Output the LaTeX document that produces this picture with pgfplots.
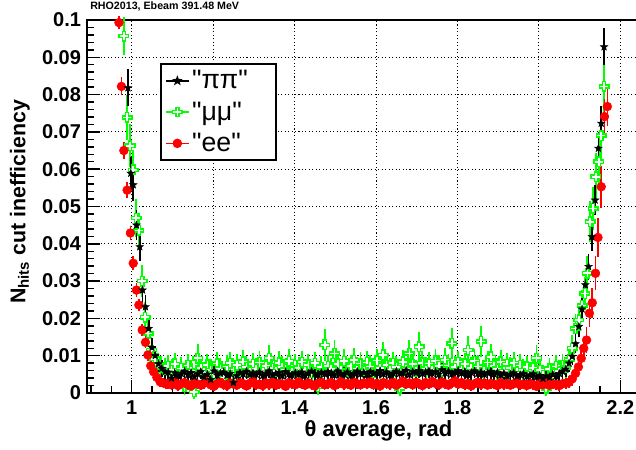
\documentclass[border=0pt]{standalone}
\usepackage{pgfplots}
\pgfplotsset{compat=1.18}
\usepackage{pgfplotstable}
\usepackage{fontspec}
\setmainfont{Liberation Sans}
\newfontfamily\legfont{Liberation Sans}[Ligatures=TeXOff]
\usetikzlibrary{calc}

\definecolor{rootgreen}{RGB}{0,255,0}
\definecolor{rootred}{RGB}{255,0,0}

% filled five-pointed star
\pgfdeclareplotmark{fstar}{%
  \pgfpathmoveto{\pgfpointpolar{90}{\pgfplotmarksize}}%
  \pgfpathlineto{\pgfpointpolar{126}{0.42\pgfplotmarksize}}%
  \pgfpathlineto{\pgfpointpolar{162}{\pgfplotmarksize}}%
  \pgfpathlineto{\pgfpointpolar{198}{0.42\pgfplotmarksize}}%
  \pgfpathlineto{\pgfpointpolar{234}{\pgfplotmarksize}}%
  \pgfpathlineto{\pgfpointpolar{270}{0.42\pgfplotmarksize}}%
  \pgfpathlineto{\pgfpointpolar{306}{\pgfplotmarksize}}%
  \pgfpathlineto{\pgfpointpolar{342}{0.42\pgfplotmarksize}}%
  \pgfpathlineto{\pgfpointpolar{18}{\pgfplotmarksize}}%
  \pgfpathlineto{\pgfpointpolar{54}{0.42\pgfplotmarksize}}%
  \pgfpathclose
  \pgfusepathqfillstroke}

% open cross (outlined plus sign)
\pgfdeclareplotmark{ocross}{%
  \pgfpathmoveto{\pgfpoint{-0.33\pgfplotmarksize}{\pgfplotmarksize}}%
  \pgfpathlineto{\pgfpoint{0.33\pgfplotmarksize}{\pgfplotmarksize}}%
  \pgfpathlineto{\pgfpoint{0.33\pgfplotmarksize}{0.33\pgfplotmarksize}}%
  \pgfpathlineto{\pgfpoint{\pgfplotmarksize}{0.33\pgfplotmarksize}}%
  \pgfpathlineto{\pgfpoint{\pgfplotmarksize}{-0.33\pgfplotmarksize}}%
  \pgfpathlineto{\pgfpoint{0.33\pgfplotmarksize}{-0.33\pgfplotmarksize}}%
  \pgfpathlineto{\pgfpoint{0.33\pgfplotmarksize}{-\pgfplotmarksize}}%
  \pgfpathlineto{\pgfpoint{-0.33\pgfplotmarksize}{-\pgfplotmarksize}}%
  \pgfpathlineto{\pgfpoint{-0.33\pgfplotmarksize}{-0.33\pgfplotmarksize}}%
  \pgfpathlineto{\pgfpoint{-\pgfplotmarksize}{-0.33\pgfplotmarksize}}%
  \pgfpathlineto{\pgfpoint{-\pgfplotmarksize}{0.33\pgfplotmarksize}}%
  \pgfpathlineto{\pgfpoint{-0.33\pgfplotmarksize}{0.33\pgfplotmarksize}}%
  \pgfpathclose
  \pgfusepathqfillstroke}

% pi pi sample
\pgfplotstableread{
x y e
0.991 0.0818 0.0042
0.998 0.0589 0.0036
1.004 0.0558 0.0035
1.012 0.0450 0.0032
1.020 0.0392 0.0030
1.027 0.0276 0.0026
1.034 0.0231 0.0024
1.042 0.0173 0.0021
1.050 0.0122 0.0019
1.058 0.0100 0.0017
1.066 0.0078 0.0015
1.074 0.0066 0.0014
1.082 0.0057 0.0013
1.090 0.0056 0.0012
1.098 0.0040 0.0012
1.106 0.0054 0.0012
1.114 0.0046 0.0012
1.122 0.0052 0.0012
1.130 0.0058 0.0012
1.138 0.0049 0.0012
1.146 0.0055 0.0012
1.154 0.0044 0.0012
1.162 0.0051 0.0012
1.170 0.0057 0.0012
1.178 0.0043 0.0012
1.186 0.0050 0.0012
1.194 0.0036 0.0012
1.202 0.0059 0.0012
1.210 0.0048 0.0012
1.218 0.0053 0.0012
1.226 0.0056 0.0012
1.234 0.0047 0.0012
1.242 0.0052 0.0012
1.250 0.0028 0.0011
1.258 0.0046 0.0012
1.266 0.0055 0.0012
1.274 0.0051 0.0012
1.282 0.0058 0.0012
1.290 0.0049 0.0012
1.298 0.0054 0.0012
1.306 0.0050 0.0012
1.314 0.0056 0.0012
1.322 0.0047 0.0012
1.330 0.0053 0.0012
1.338 0.0059 0.0012
1.346 0.0048 0.0012
1.354 0.0052 0.0012
1.362 0.0055 0.0012
1.370 0.0046 0.0012
1.378 0.0057 0.0012
1.386 0.0051 0.0012
1.394 0.0049 0.0012
1.402 0.0054 0.0012
1.410 0.0050 0.0012
1.418 0.0056 0.0012
1.426 0.0047 0.0012
1.434 0.0053 0.0012
1.442 0.0058 0.0012
1.450 0.0052 0.0012
1.458 0.0049 0.0012
1.466 0.0055 0.0012
1.474 0.0051 0.0012
1.482 0.0057 0.0012
1.490 0.0054 0.0012
1.498 0.0048 0.0012
1.506 0.0059 0.0012
1.514 0.0052 0.0012
1.522 0.0050 0.0012
1.530 0.0056 0.0012
1.538 0.0047 0.0012
1.546 0.0053 0.0012
1.554 0.0058 0.0012
1.562 0.0051 0.0012
1.570 0.0055 0.0012
1.578 0.0049 0.0012
1.586 0.0057 0.0012
1.594 0.0052 0.0012
1.602 0.0054 0.0012
1.610 0.0060 0.0012
1.618 0.0051 0.0012
1.626 0.0056 0.0012
1.634 0.0048 0.0012
1.642 0.0053 0.0012
1.650 0.0058 0.0012
1.658 0.0052 0.0012
1.666 0.0055 0.0012
1.674 0.0061 0.0012
1.682 0.0049 0.0012
1.690 0.0057 0.0012
1.698 0.0054 0.0012
1.706 0.0060 0.0012
1.714 0.0052 0.0012
1.722 0.0056 0.0012
1.730 0.0059 0.0012
1.738 0.0053 0.0012
1.746 0.0057 0.0012
1.754 0.0050 0.0012
1.762 0.0062 0.0012
1.770 0.0054 0.0012
1.778 0.0058 0.0012
1.786 0.0051 0.0012
1.794 0.0056 0.0012
1.802 0.0060 0.0012
1.810 0.0053 0.0012
1.818 0.0057 0.0012
1.826 0.0049 0.0012
1.834 0.0055 0.0012
1.842 0.0059 0.0012
1.850 0.0052 0.0012
1.858 0.0056 0.0012
1.866 0.0050 0.0012
1.874 0.0054 0.0012
1.882 0.0058 0.0012
1.890 0.0051 0.0012
1.898 0.0055 0.0012
1.906 0.0048 0.0012
1.914 0.0053 0.0012
1.922 0.0046 0.0012
1.930 0.0050 0.0012
1.938 0.0054 0.0012
1.946 0.0045 0.0012
1.954 0.0049 0.0012
1.962 0.0052 0.0012
1.970 0.0044 0.0012
1.978 0.0048 0.0012
1.986 0.0051 0.0012
1.994 0.0043 0.0012
2.002 0.0047 0.0012
2.010 0.0039 0.0011
2.018 0.0046 0.0012
2.026 0.0042 0.0012
2.034 0.0050 0.0012
2.042 0.0045 0.0012
2.050 0.0052 0.0012
2.058 0.0058 0.0013
2.066 0.0064 0.0014
2.074 0.0080 0.0015
2.082 0.0098 0.0016
2.090 0.0132 0.0018
2.098 0.0178 0.0020
2.106 0.0225 0.0022
2.114 0.0290 0.0025
2.122 0.0339 0.0027
2.130 0.0419 0.0030
2.138 0.0517 0.0033
2.146 0.0656 0.0037
2.153 0.0723 0.0039
2.160 0.0928 0.0042
}\pipi

% mu mu sample
\pgfplotstableread{
x y e
0.981 0.0957 0.0043
0.989 0.0739 0.0052
0.996 0.0663 0.0049
1.004 0.0598 0.0046
1.011 0.0469 0.0042
1.018 0.0436 0.0040
1.026 0.0300 0.0036
1.033 0.0203 0.0032
1.041 0.0160 0.0030
1.049 0.0115 0.0027
1.057 0.0092 0.0025
1.065 0.0076 0.0023
1.073 0.0069 0.0022
1.081 0.0064 0.0022
1.090 0.0072 0.0022
1.098 0.0061 0.0022
1.106 0.0078 0.0022
1.114 0.0054 0.0021
1.122 0.0066 0.0022
1.130 0.0017 0.0015
1.138 0.0074 0.0022
1.146 0.0060 0.0022
1.154 0.0003 0.0012
1.162 0.0093 0.0030
1.170 0.0068 0.0022
1.178 0.0055 0.0021
1.186 0.0076 0.0022
1.194 0.0062 0.0022
1.202 0.0050 0.0021
1.210 0.0079 0.0022
1.218 0.0065 0.0022
1.226 0.0042 0.0019
1.234 0.0071 0.0022
1.242 0.0080 0.0023
1.250 0.0063 0.0022
1.258 0.0075 0.0022
1.266 0.0058 0.0021
1.274 0.0084 0.0024
1.282 0.0069 0.0022
1.290 0.0056 0.0021
1.298 0.0077 0.0022
1.306 0.0064 0.0022
1.314 0.0082 0.0023
1.322 0.0060 0.0022
1.330 0.0073 0.0022
1.338 0.0093 0.0028
1.346 0.0067 0.0022
1.354 0.0059 0.0021
1.362 0.0081 0.0023
1.370 0.0070 0.0022
1.378 0.0063 0.0022
1.386 0.0086 0.0024
1.394 0.0057 0.0021
1.402 0.0074 0.0022
1.410 0.0068 0.0022
1.418 0.0083 0.0023
1.426 0.0061 0.0022
1.434 0.0076 0.0022
1.442 0.0055 0.0021
1.450 0.0080 0.0023
1.458 0.0017 0.0015
1.466 0.0069 0.0022
1.474 0.0129 0.0035
1.482 0.0072 0.0022
1.490 0.0064 0.0022
1.498 0.0106 0.0028
1.506 0.0078 0.0022
1.514 0.0062 0.0022
1.522 0.0085 0.0024
1.530 0.0058 0.0021
1.538 0.0073 0.0022
1.546 0.0088 0.0025
1.554 0.0066 0.0022
1.562 0.0079 0.0022
1.570 0.0060 0.0022
1.578 0.0082 0.0023
1.586 0.0071 0.0022
1.594 0.0054 0.0021
1.602 0.0087 0.0024
1.610 0.0068 0.0022
1.618 0.0102 0.0028
1.626 0.0075 0.0022
1.634 0.0063 0.0022
1.642 0.0080 0.0023
1.650 0.0070 0.0022
1.658 0.0013 0.0013
1.666 0.0084 0.0024
1.674 0.0065 0.0022
1.682 0.0106 0.0028
1.690 0.0077 0.0022
1.698 0.0059 0.0021
1.706 0.0124 0.0032
1.714 0.0081 0.0023
1.722 0.0066 0.0022
1.730 0.0079 0.0022
1.738 0.0062 0.0022
1.746 0.0086 0.0024
1.754 0.0072 0.0022
1.762 0.0058 0.0021
1.770 0.0088 0.0025
1.778 0.0074 0.0022
1.786 0.0133 0.0033
1.794 0.0069 0.0022
1.802 0.0083 0.0023
1.810 0.0064 0.0022
1.818 0.0078 0.0022
1.826 0.0115 0.0030
1.834 0.0068 0.0022
1.842 0.0085 0.0024
1.850 0.0071 0.0022
1.858 0.0138 0.0034
1.866 0.0060 0.0022
1.874 0.0082 0.0023
1.882 0.0097 0.0027
1.890 0.0073 0.0022
1.898 0.0065 0.0022
1.906 0.0084 0.0024
1.914 0.0059 0.0021
1.922 0.0077 0.0022
1.930 0.0068 0.0022
1.938 0.0080 0.0023
1.946 0.0056 0.0021
1.954 0.0074 0.0022
1.962 0.0062 0.0022
1.970 0.0070 0.0022
1.978 0.0055 0.0021
1.986 0.0068 0.0022
1.994 0.0093 0.0028
2.002 0.0061 0.0022
2.010 0.0048 0.0020
2.018 0.0013 0.0013
2.026 0.0065 0.0022
2.034 0.0052 0.0021
2.042 0.0071 0.0022
2.050 0.0060 0.0022
2.058 0.0074 0.0022
2.066 0.0068 0.0022
2.074 0.0090 0.0025
2.082 0.0120 0.0028
2.090 0.0173 0.0031
2.098 0.0196 0.0032
2.106 0.0235 0.0034
2.113 0.0267 0.0036
2.119 0.0321 0.0039
2.126 0.0459 0.0047
2.133 0.0495 0.0050
2.140 0.0580 0.0055
2.147 0.0620 0.0057
2.153 0.0690 0.0061
2.160 0.0822 0.0069
}\mumu

% e e sample
\pgfplotstableread{
x y e
0.969 0.0993 0.0010
0.975 0.0822 0.0016
0.981 0.0650 0.0015
0.989 0.0544 0.0014
0.997 0.0429 0.0012
1.004 0.0348 0.0011
1.012 0.0276 0.0010
1.018 0.0236 0.0009
1.026 0.0169 0.0008
1.034 0.0136 0.0008
1.040 0.0102 0.0007
1.047 0.0073 0.0007
1.054 0.0057 0.0006
1.062 0.0042 0.0006
1.070 0.0030 0.0006
1.078 0.0027 0.0006
1.084 0.0025 0.0006
1.090 0.0026 0.0006
1.098 0.0022 0.0006
1.106 0.0029 0.0006
1.114 0.0020 0.0006
1.122 0.0025 0.0006
1.130 0.0028 0.0006
1.138 0.0023 0.0006
1.146 0.0019 0.0006
1.154 0.0027 0.0006
1.162 0.0024 0.0006
1.170 0.0021 0.0006
1.178 0.0026 0.0006
1.186 0.0030 0.0006
1.194 0.0022 0.0006
1.202 0.0018 0.0006
1.210 0.0025 0.0006
1.218 0.0029 0.0006
1.226 0.0023 0.0006
1.234 0.0020 0.0006
1.242 0.0027 0.0006
1.250 0.0024 0.0006
1.258 0.0021 0.0006
1.266 0.0028 0.0006
1.274 0.0025 0.0006
1.282 0.0019 0.0006
1.290 0.0026 0.0006
1.298 0.0031 0.0006
1.306 0.0022 0.0006
1.314 0.0024 0.0006
1.322 0.0020 0.0006
1.330 0.0027 0.0006
1.338 0.0023 0.0006
1.346 0.0029 0.0006
1.354 0.0021 0.0006
1.362 0.0026 0.0006
1.370 0.0024 0.0006
1.378 0.0018 0.0006
1.386 0.0028 0.0006
1.394 0.0025 0.0006
1.402 0.0022 0.0006
1.410 0.0030 0.0006
1.418 0.0024 0.0006
1.426 0.0021 0.0006
1.434 0.0027 0.0006
1.442 0.0023 0.0006
1.450 0.0019 0.0006
1.458 0.0026 0.0006
1.466 0.0029 0.0006
1.474 0.0022 0.0006
1.482 0.0025 0.0006
1.490 0.0028 0.0006
1.498 0.0020 0.0006
1.506 0.0024 0.0006
1.514 0.0031 0.0006
1.522 0.0023 0.0006
1.530 0.0026 0.0006
1.538 0.0021 0.0006
1.546 0.0029 0.0006
1.554 0.0025 0.0006
1.562 0.0022 0.0006
1.570 0.0027 0.0006
1.578 0.0024 0.0006
1.586 0.0030 0.0006
1.594 0.0022 0.0006
1.602 0.0026 0.0006
1.610 0.0019 0.0006
1.618 0.0028 0.0006
1.626 0.0025 0.0006
1.634 0.0023 0.0006
1.642 0.0029 0.0006
1.650 0.0021 0.0006
1.658 0.0026 0.0006
1.666 0.0032 0.0006
1.674 0.0024 0.0006
1.682 0.0027 0.0006
1.690 0.0022 0.0006
1.698 0.0029 0.0006
1.706 0.0025 0.0006
1.714 0.0020 0.0006
1.722 0.0028 0.0006
1.730 0.0024 0.0006
1.738 0.0031 0.0006
1.746 0.0026 0.0006
1.754 0.0022 0.0006
1.762 0.0029 0.0006
1.770 0.0025 0.0006
1.778 0.0021 0.0006
1.786 0.0027 0.0006
1.794 0.0033 0.0006
1.802 0.0024 0.0006
1.810 0.0028 0.0006
1.818 0.0022 0.0006
1.826 0.0026 0.0006
1.834 0.0019 0.0006
1.842 0.0025 0.0006
1.850 0.0029 0.0006
1.858 0.0023 0.0006
1.866 0.0027 0.0006
1.874 0.0021 0.0006
1.882 0.0026 0.0006
1.890 0.0024 0.0006
1.898 0.0020 0.0006
1.906 0.0028 0.0006
1.914 0.0023 0.0006
1.922 0.0026 0.0006
1.930 0.0021 0.0006
1.938 0.0025 0.0006
1.946 0.0029 0.0006
1.954 0.0022 0.0006
1.962 0.0024 0.0006
1.970 0.0020 0.0006
1.978 0.0026 0.0006
1.986 0.0023 0.0006
1.994 0.0018 0.0006
2.002 0.0025 0.0006
2.010 0.0022 0.0006
2.018 0.0027 0.0006
2.026 0.0021 0.0006
2.034 0.0024 0.0006
2.042 0.0023 0.0006
2.050 0.0020 0.0006
2.058 0.0025 0.0006
2.066 0.0026 0.0007
2.074 0.0029 0.0008
2.082 0.0038 0.0010
2.090 0.0053 0.0013
2.097 0.0070 0.0016
2.104 0.0093 0.0020
2.110 0.0120 0.0023
2.117 0.0142 0.0026
2.124 0.0214 0.0030
2.131 0.0242 0.0032
2.139 0.0321 0.0038
2.145 0.0417 0.0044
2.153 0.0553 0.0048
2.161 0.0741 0.0040
2.168 0.0768 0.0045
}\ee

\begin{document}
\begin{tikzpicture}
\begin{axis}[
  name=ax,
  scale only axis,
  width=412.5pt, height=279.75pt,
  xmin=0.8905, xmax=2.241,
  ymin=0, ymax=0.1,
  clip=false,
  axis line style={line width=1.5pt},
  xtick={1,1.2,1.4,1.6,1.8,2,2.2},
  xticklabels={1,1.2,1.4,1.6,1.8,2,2.2},
  ytick={0,0.01,0.02,0.03,0.04,0.05,0.06,0.07,0.08,0.09,0.1},
  yticklabels={0,0.01,0.02,0.03,0.04,0.05,0.06,0.07,0.08,0.09,0.1},
  minor xtick={0.9,0.95,1.05,1.1,1.15,1.25,1.3,1.35,1.45,1.5,1.55,1.65,1.7,1.75,1.85,1.9,1.95,2.05,2.1,2.15,2.25},
  minor ytick={0.002,0.004,...,0.1},
  xtick pos=left, ytick pos=left,
  tick align=inside,
  major tick length=10pt, minor tick length=5pt,
  every tick/.style={black, line width=1.1pt},
  grid=major,
  major grid style={black, line width=0.7pt, dash pattern=on 0.8pt off 1.8pt},
  /pgf/number format/assume math mode=true,
  xticklabel style={font=\fontsize{15}{15}\selectfont\bfseries, yshift=-2pt},
  yticklabel style={font=\fontsize{15}{15}\selectfont\bfseries, xshift=-1pt},
  xlabel={θ average, rad},
  ylabel={N\textsubscript{hits} cut inefficiency},
  xlabel style={font=\fontsize{16.5}{17}\selectfont\bfseries, at={(axis description cs:0.530,-0.102)}, anchor=center},
  ylabel style={font=\fontsize{16}{17}\selectfont\bfseries, at={(axis description cs:-0.122,0.512)}, anchor=center},
  legend cell align=left,
  legend style={at={(axis description cs:0.133,0.885)}, anchor=north west,
    draw=black, line width=1.6pt, fill=white,
    font=\legfont\fontsize{20}{22}\selectfont, inner sep=3pt, row sep=4.2pt,
    /tikz/every even column/.append style={column sep=2pt}},
  error bars/y dir=both,
  error bars/y explicit,
]
\addlegendimage{black, line width=1.1pt, mark=fstar, mark size=2.6pt, mark options={solid, fill=black}}
\addlegendentry{\makebox[58pt][l]{"ππ"}}
\addlegendimage{rootgreen, line width=1.1pt, mark=ocross, mark size=3.4pt, mark options={solid, fill=white, line width=1pt}}
\addlegendentry{\makebox[58pt][l]{"μμ"}}
\addlegendimage{rootred, line width=1.1pt, mark=*, mark size=3pt, mark options={solid, fill=rootred}}
\addlegendentry{\makebox[58pt][l]{"ee"}}

\addplot[forget plot, only marks, rootgreen, mark=ocross, mark size=3.6pt,
  mark options={fill=white, draw=rootgreen, line width=1.1pt},
  error bars/error bar style={line width=1.4pt, rootgreen},
  error bars/error mark options={rootgreen, line width=1.4pt, mark size=2.2pt}]
  table[x=x, y=y, y error=e] {\mumu};
\addplot[forget plot, only marks, rootred, mark=*, mark size=3.3pt,
  mark options={fill=rootred, draw=rootred},
  error bars/error bar style={line width=1.2pt, rootred},
  error bars/error mark options={rootred, line width=1.2pt, mark size=2.2pt}]
  table[x=x, y=y, y error=e] {\ee};
\addplot[forget plot, only marks, black, mark=fstar, mark size=2.9pt,
  mark options={fill=black, draw=black, line width=0.4pt},
  error bars/error bar style={line width=1.2pt, black},
  error bars/error mark options={black, line width=1.2pt, mark size=2.2pt}]
  table[x=x, y=y, y error=e] {\pipi};
\end{axis}
\node[anchor=west, font=\fontsize{8}{9}\selectfont\bfseries, inner sep=0pt]
  at ($(ax.north west)+(2.25pt,9.8pt)$) {RHO2013, Ebeam 391.48 MeV};
\pgfresetboundingbox
\path[use as bounding box] ($(ax.south west)+(-65.25pt,-42pt)$) rectangle ($(ax.north east)+(-0.8pt,15pt)$);
\end{tikzpicture}
\end{document}
